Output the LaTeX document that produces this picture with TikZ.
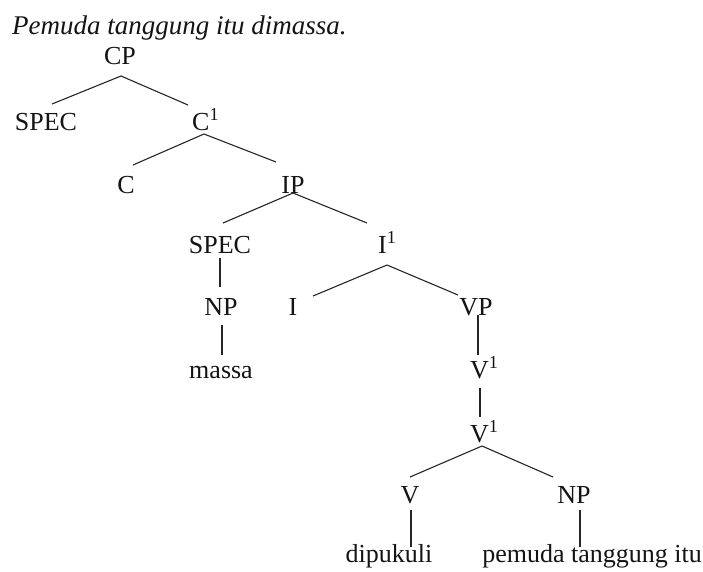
\documentclass[tikz,border=0pt]{standalone}
\usepackage{fontspec}
\setmainfont{Liberation Serif}
\begin{document}
\begin{tikzpicture}[x=1pt,y=-1pt,
  lbl/.style={inner sep=0pt,anchor=base,font=\fontsize{26}{30}\selectfont,text=black!92},
  lblw/.style={lbl,anchor=base west},
  edge/.style={draw=black!85,line width=1.1pt}]
\useasboundingbox[fill=white] (0,0) rectangle (703,571);
\node[lblw,font=\fontsize{27}{30}\selectfont\itshape] (title) at (12,34) {Pemuda tanggung itu dimassa.};
\node[lbl] (cp) at (120,64) {CP};
\node[lbl] (spec1) at (46,130) {SPEC};
\node[lblw] (cbar) at (192,130) {C\textsuperscript{1}};
\node[lbl] (c) at (126,193) {C};
\node[lbl] (ip) at (293,193) {IP};
\node[lbl] (spec2) at (220,253) {SPEC};
\node[lblw] (ibar) at (378,253) {I\textsuperscript{1}};
\node[lbl] (np1) at (221,315) {NP};
\node[lbl] (i) at (293,315) {I};
\node[lbl] (vp) at (476,315) {VP};
\node[lbl] (massa) at (221,378) {massa};
\node[lblw] (vbar1) at (470,378) {V\textsuperscript{1}};
\node[lblw] (vbar2) at (470,442) {V\textsuperscript{1}};
\node[lbl] (v) at (410,503) {V};
\node[lbl] (np2) at (574,503) {NP};
\node[lbl] (dip) at (389,562) {dipukuli};
\node[lbl] (pem) at (592,562) {pemuda tanggung itu};
% edges
\draw[edge] ([xshift=1pt,yshift=-12pt]cp.base) -- ([xshift=6pt,yshift=26pt]spec1.base);
\draw[edge] ([xshift=1pt,yshift=-12pt]cp.base) -- ([xshift=-4pt,yshift=25pt]cbar.base west);
\draw[edge] ([xshift=12pt,yshift=-4pt]cbar.base west) -- ([xshift=7pt,yshift=28pt]c.base);
\draw[edge] ([xshift=12pt,yshift=-4pt]cbar.base west) -- ([xshift=-17pt,yshift=31pt]ip.base);
\draw[edge] (ip.base) -- ([xshift=3pt,yshift=30pt]spec2.base);
\draw[edge] (ip.base) -- ([xshift=-11pt,yshift=30pt]ibar.base west);
\draw[edge] ([yshift=-5pt]spec2.base) -- ([xshift=-1pt,yshift=28pt]np1.base);
\draw[edge] ([xshift=9pt,yshift=-12pt]ibar.base west) -- ([xshift=20pt,yshift=19pt]i.base);
\draw[edge] ([xshift=9pt,yshift=-12pt]ibar.base west) -- ([xshift=-18pt,yshift=20pt]vp.base);
\draw[edge] ([xshift=1pt,yshift=-10pt]np1.base) -- ([xshift=1pt,yshift=23pt]massa.base);
\draw[edge] ([xshift=2pt]vp.base) -- ([xshift=8pt,yshift=23pt]vbar1.base west);
\draw[edge] ([xshift=10pt,yshift=-10pt]vbar1.base west) -- ([xshift=10pt,yshift=25pt]vbar2.base west);
\draw[edge] ([xshift=12pt,yshift=-4pt]vbar2.base west) -- ([yshift=26pt]v.base);
\draw[edge] ([xshift=12pt,yshift=-4pt]vbar2.base west) -- ([xshift=-21pt,yshift=26pt]np2.base);
\draw[edge] ([xshift=1pt,yshift=-7pt]v.base) -- ([xshift=22pt,yshift=15pt]dip.base);
\draw[edge] ([xshift=6pt,yshift=-7pt]np2.base) -- ([xshift=-12pt,yshift=15pt]pem.base);
\end{tikzpicture}
\end{document}
